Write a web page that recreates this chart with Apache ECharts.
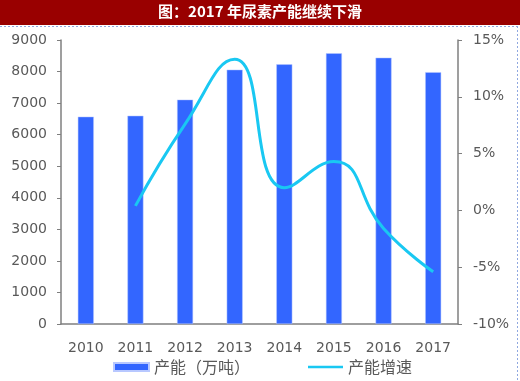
<!DOCTYPE html>
<html><head><meta charset="utf-8">
<script src="https://cdn.jsdelivr.net/npm/echarts@6/dist/echarts.min.js"></script>
<style>html,body{margin:0;padding:0;background:#fff}#c{width:520px;height:381px}</style>
</head><body><div id="c"></div>
<script>
const titleText = '图：2017 年尿素产能继续下滑';
const categories = ['2010','2011','2012','2013','2014','2015','2016','2017'];
const capacity = [6570, 6600, 7110, 8060, 8230, 8580, 8440, 7980];
const growth = [null, 0.4, 7.6, 13.3, 2.0, 4.3, -1.6, -5.4];
const leftTicks = [0, 9000, 1000];
const rightTicks = [-10, 15, 5];
const seriesNames = ['产能（万吨）', '产能增速'];

const chart = echarts.init(document.getElementById('c'));
const font = '"DejaVu Sans", "Noto Sans CJK SC", sans-serif';
chart.setOption({
  animation: false,
  textStyle: {fontFamily: font},
  graphic: [
    {type:'rect', left:0, top:0, shape:{width:520, height:25}, style:{fill:'#990000'}},
    {type:'line', shape:{x1:0,y1:26.5,x2:520,y2:26.5}, style:{stroke:'#8fa8e0', lineWidth:1, lineDash:[2,2]}},
    {type:'line', shape:{x1:517.5,y1:26,x2:517.5,y2:381}, style:{stroke:'#8fa8e0', lineWidth:1, lineDash:[2,2]}},
    {type:'text', left:'center', top:4, style:{text:titleText, fill:'#fff', font:'bold 15px "Noto Sans CJK SC", sans-serif'}}
  ],
  grid: {left:61, right:62, top:40, bottom:57},
  legend: {
    bottom: 1, left: 108, itemGap: 58,
    itemWidth: 35, itemHeight: 8,
    textStyle: {color:'#595959', fontSize:16, fontFamily:'"Noto Sans CJK SC", sans-serif'},
    data: [
      {name: seriesNames[0], icon: 'rect'},
      {name: seriesNames[1], icon: 'path://M0,0 L40,0 L40,3 L0,3 Z'}
    ]
  },
  xAxis: {
    type:'category', data: categories,
    axisLine:{lineStyle:{color:'#7f7f7f', width:1.5}},
    axisTick:{show:false},
    axisLabel:{color:'#595959', fontSize:14, margin:17}
  },
  yAxis: [
    {type:'value', min:leftTicks[0], max:leftTicks[1], interval:leftTicks[2],
     splitLine:{show:false},
     axisLine:{show:true, lineStyle:{color:'#7f7f7f', width:1.5}},
     axisTick:{show:true, length:4, lineStyle:{color:'#7f7f7f'}},
     axisLabel:{color:'#595959', fontSize:14, margin:14, formatter: v => String(v)}},
    {type:'value', min:rightTicks[0], max:rightTicks[1], interval:rightTicks[2],
     splitLine:{show:false},
     axisLine:{show:true, lineStyle:{color:'#7f7f7f', width:1.5}},
     axisTick:{show:true, length:4, lineStyle:{color:'#7f7f7f'}},
     axisLabel:{color:'#595959', fontSize:14, margin:15, formatter: v => v + '%'}}
  ],
  series: [
    {name: seriesNames[0], type:'bar', data: capacity, barWidth:16,
     itemStyle:{color:'#3366ff', borderColor:'#b8c8ff', borderWidth:0.5}},
    {name: seriesNames[1], type:'line', yAxisIndex:1, data: growth, smooth:0.5,
     showSymbol:false, symbol:'none', connectNulls:false,
     lineStyle:{color:'#19c8f2', width:3}, itemStyle:{color:'#19c8f2'}}
  ]
});
</script></body></html>
